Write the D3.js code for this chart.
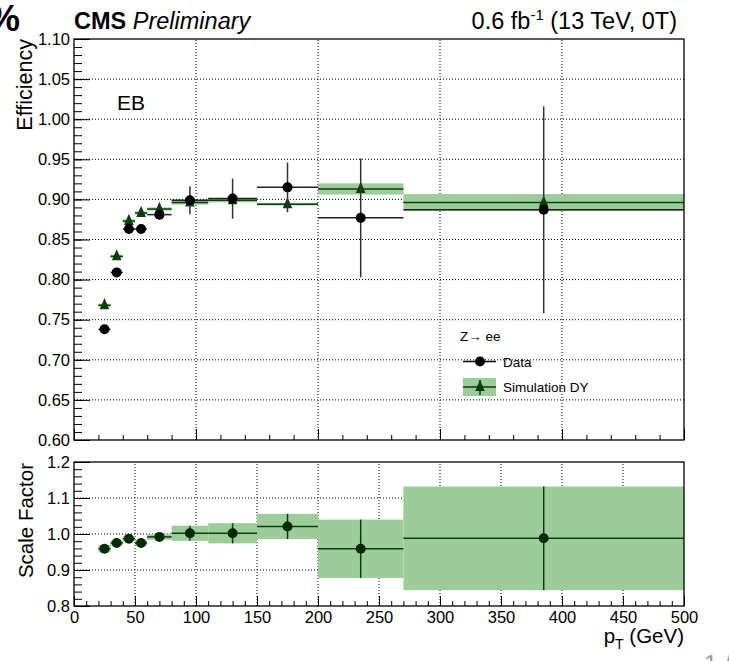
<!DOCTYPE html>
<html lang="en">
<head>
<meta charset="UTF-8" />
<title>EB efficiency vs pT</title>
<script src="https://d3js.org/d3.v7.min.js"></script>
<style>
  body { margin: 0; background: #fff; }
  svg { display: block; font-family: "Liberation Sans", Arial, Helvetica, sans-serif; }
  .tick line { stroke: #000; }
</style>
</head>
<body>
<script>
  // pT bins (GeV)
  var binLo = [20, 30, 40, 50, 60, 80, 110, 150, 200, 270];
  var binHi = [30, 40, 50, 60, 80, 110, 150, 200, 270, 500];
  var binCenter = [25, 35, 45, 55, 70, 95, 130, 175, 235, 385];

  // efficiency, data
  var effData = [0.738, 0.809, 0.863, 0.863, 0.881, 0.899, 0.901, 0.915, 0.877, 0.887];
  var effDataErr = [0.005, 0.004, 0.004, 0.004, 0.006, 0.0175, 0.025, 0.031, 0.074, 0.129];
  // efficiency, simulation DY
  var effMC = [0.768, 0.829, 0.873, 0.883, 0.888, 0.896, 0.899, 0.894, 0.913, 0.896];
  var effMCErr = [0.002, 0.002, 0.002, 0.002, 0.002, 0.0025, 0.0027, 0.0015, 0.007, 0.0106];
  // scale factor data / simulation
  var sf = [0.959, 0.975, 0.987, 0.975, 0.992, 1.002, 1.002, 1.021, 0.959, 0.988];
  var sfErr = [0.010, 0.007, 0.007, 0.007, 0.008, 0.021, 0.028, 0.035, 0.081, 0.144];

  var effTicks = [0.60, 0.65, 0.70, 0.75, 0.80, 0.85, 0.90, 0.95, 1.00, 1.05, 1.10];
  var sfTicks = [0.8, 0.9, 1.0, 1.1, 1.2];
  var ptTicks = [0, 50, 100, 150, 200, 250, 300, 350, 400, 450, 500];

  var w = 729, h = 661;
  var green = "#0c3d0c", band = "#9ccc99";

  var bins = binCenter.map(function (c, i) {
    return { lo: binLo[i], hi: binHi[i], c: c,
      d: effData[i], de: effDataErr[i], m: effMC[i], me: effMCErr[i],
      s: sf[i], se: sfErr[i] };
  });

  var x = d3.scaleLinear().domain([0, 500]).range([74, 684]);
  var yTop = d3.scaleLinear().domain([0.6, 1.1]).range([440, 39]);
  var yBot = d3.scaleLinear().domain([0.8, 1.2]).range([606, 462]);

  var svg = d3.select("body").append("svg").attr("width", w).attr("height", h);

  function grid(g, xs, ys, y) {
    g.selectAll(".vg").data(xs).enter().append("line")
      .attr("x1", function (d) { return x(d); }).attr("x2", function (d) { return x(d); })
      .attr("y1", y.range()[0]).attr("y2", y.range()[1]);
    g.selectAll(".hg").data(ys).enter().append("line")
      .attr("x1", x.range()[0]).attr("x2", x.range()[1])
      .attr("y1", function (d) { return y(d); }).attr("y2", function (d) { return y(d); });
    g.attr("stroke", "#000").attr("stroke-width", 1).attr("stroke-dasharray", "1,2");
  }
  grid(svg.append("g"), [100, 200, 300, 400], effTicks.slice(1, -1), yTop);
  grid(svg.append("g"), [50, 100, 150, 200, 250, 300, 350, 400, 450], [0.9, 1.0, 1.1], yBot);

  function tri(cx, cy, s) {
    return "M" + cx + "," + (cy - s * 0.9) + "L" + (cx + s * 0.6) + "," + (cy + s * 0.5) +
      "L" + (cx - s * 0.6) + "," + (cy + s * 0.5) + "Z";
  }

  // ---- top panel ----
  var gTop = svg.append("g");
  gTop.selectAll(".band").data(bins).enter().append("rect")
    .attr("x", function (d) { return x(d.lo); })
    .attr("width", function (d) { return x(d.hi) - x(d.lo); })
    .attr("y", function (d) { return yTop(d.m + d.me); })
    .attr("height", function (d) { return yTop(d.m - d.me) - yTop(d.m + d.me); })
    .attr("fill", band);
  gTop.selectAll(".mcl").data(bins).enter().append("line")
    .attr("x1", function (d) { return x(d.lo); }).attr("x2", function (d) { return x(d.hi); })
    .attr("y1", function (d) { return yTop(d.m); }).attr("y2", function (d) { return yTop(d.m); })
    .attr("stroke", green).attr("stroke-width", 1.5);
  gTop.selectAll(".mcm").data(bins).enter().append("path")
    .attr("d", function (d) { return tri(x(d.c), yTop(d.m), 8); })
    .attr("fill", green);

  gTop.selectAll(".dh").data(bins).enter().append("line")
    .attr("x1", function (d) { return x(d.lo); }).attr("x2", function (d) { return x(d.hi); })
    .attr("y1", function (d) { return yTop(d.d); }).attr("y2", function (d) { return yTop(d.d); })
    .attr("stroke", "#222").attr("stroke-width", 1.5);
  gTop.selectAll(".dv").data(bins).enter().append("line")
    .attr("x1", function (d) { return x(d.c); }).attr("x2", function (d) { return x(d.c); })
    .attr("y1", function (d) { return yTop(d.d - d.de); }).attr("y2", function (d) { return yTop(d.d + d.de); })
    .attr("stroke", "#333").attr("stroke-width", 1.5);
  gTop.selectAll(".dm").data(bins).enter().append("circle")
    .attr("cx", function (d) { return x(d.c); }).attr("cy", function (d) { return yTop(d.d); })
    .attr("r", 5).attr("fill", "#000");

  // ---- bottom panel ----
  var gBot = svg.append("g");
  gBot.selectAll(".band").data(bins).enter().append("rect")
    .attr("x", function (d) { return x(d.lo); })
    .attr("width", function (d) { return x(d.hi) - x(d.lo); })
    .attr("y", function (d) { return yBot(d.s + d.se); })
    .attr("height", function (d) { return yBot(d.s - d.se) - yBot(d.s + d.se); })
    .attr("fill", band);
  gBot.selectAll(".sh").data(bins).enter().append("line")
    .attr("x1", function (d) { return x(d.lo); }).attr("x2", function (d) { return x(d.hi); })
    .attr("y1", function (d) { return yBot(d.s); }).attr("y2", function (d) { return yBot(d.s); })
    .attr("stroke", green).attr("stroke-width", 1.5);
  gBot.selectAll(".sv").data(bins).enter().append("line")
    .attr("x1", function (d) { return x(d.c); }).attr("x2", function (d) { return x(d.c); })
    .attr("y1", function (d) { return yBot(d.s - d.se); }).attr("y2", function (d) { return yBot(d.s + d.se); })
    .attr("stroke", green).attr("stroke-width", 1.5);
  gBot.selectAll(".sm").data(bins).enter().append("circle")
    .attr("cx", function (d) { return x(d.c); }).attr("cy", function (d) { return yBot(d.s); })
    .attr("r", 5).attr("fill", "#032b03");

  // frames
  [yTop, yBot].forEach(function (y) {
    svg.append("rect").attr("x", 74).attr("y", y.range()[1])
      .attr("width", 610).attr("height", y.range()[0] - y.range()[1])
      .attr("fill", "none").attr("stroke", "#000").attr("stroke-width", 1.3);
  });

  // axes (ticks pointing inside, ROOT style)
  function clean(g) { g.select(".domain").remove(); g.selectAll("text").attr("fill", "#000"); }
  var d01 = d3.range(51).map(function (i) { return 0.6 + i * 0.01; });
  svg.append("g").attr("transform", "translate(74,0)")
    .call(d3.axisLeft(yTop).tickValues(d01).tickSizeInner(-8).tickFormat(""))
    .call(clean);
  svg.append("g").attr("transform", "translate(74,0)")
    .call(d3.axisLeft(yTop).tickValues(effTicks).tickSizeInner(-16).tickPadding(4).tickFormat(d3.format(".2f")))
    .call(clean).attr("font-size", 16.5).attr("font-family", null);

  var d02 = d3.range(21).map(function (i) { return 0.8 + i * 0.02; });
  svg.append("g").attr("transform", "translate(74,0)")
    .call(d3.axisLeft(yBot).tickValues(d02).tickSizeInner(-8).tickFormat(""))
    .call(clean);
  svg.append("g").attr("transform", "translate(74,0)")
    .call(d3.axisLeft(yBot).tickValues(sfTicks).tickSizeInner(-16).tickPadding(4).tickFormat(d3.format(".1f")))
    .call(clean).attr("font-size", 16.5).attr("font-family", null);

  svg.append("g").attr("transform", "translate(0,440)")
    .call(d3.axisBottom(x).tickValues(d3.range(0, 501, 20)).tickSizeInner(-5).tickFormat(""))
    .call(clean);
  svg.append("g").attr("transform", "translate(0,440)")
    .call(d3.axisBottom(x).tickValues([0, 100, 200, 300, 400, 500]).tickSizeInner(-11).tickFormat(""))
    .call(clean);

  svg.append("g").attr("transform", "translate(0,606)")
    .call(d3.axisBottom(x).tickValues(d3.range(0, 501, 10)).tickSizeInner(-5).tickFormat(""))
    .call(clean);
  svg.append("g").attr("transform", "translate(0,606)")
    .call(d3.axisBottom(x).tickValues(ptTicks).tickSizeInner(-10).tickPadding(5).tickFormat(d3.format("d")))
    .call(clean).attr("font-size", 16.5).attr("font-family", null);

  // titles
  svg.append("text").attr("transform", "translate(32,39) rotate(-90)")
    .attr("text-anchor", "end").attr("font-size", 21.5).text("Efficiency");
  svg.append("text").attr("transform", "translate(33,463) rotate(-90)")
    .attr("text-anchor", "end").attr("font-size", 20.5).text("Scale Factor");

  var xt = svg.append("text").attr("x", 684).attr("y", 643).attr("text-anchor", "end").attr("font-size", 20.5);
  xt.append("tspan").text("p");
  xt.append("tspan").attr("dy", 6).attr("font-size", 14).text("T");
  xt.append("tspan").attr("dy", -6).text(" (GeV)");

  var cms = svg.append("text").attr("x", 74).attr("y", 29).attr("font-size", 23.5);
  cms.append("tspan").attr("font-weight", "bold").text("CMS ");
  cms.append("tspan").attr("font-style", "italic").text("Preliminary");

  var lumi = svg.append("text").attr("x", 677).attr("y", 29).attr("text-anchor", "end").attr("font-size", 23.5);
  lumi.append("tspan").text("0.6 fb");
  lumi.append("tspan").attr("dy", -9).attr("font-size", 15).text("-1");
  lumi.append("tspan").attr("dy", 9).text(" (13 TeV, 0T)");

  svg.append("text").attr("x", 117).attr("y", 110).attr("font-size", 21).text("EB");

  // clipped pieces from the page around the plot
  svg.append("text").attr("x", -12).attr("y", 31).attr("font-size", 36).attr("font-weight", "bold").text("%");
  svg.append("text").attr("x", 704).attr("y", 672).attr("font-size", 24).attr("fill", "#999").text("1 /");

  // legend
  var lg = svg.append("g").attr("font-size", 13.5);
  lg.append("text").attr("x", 460).attr("y", 341).text("Z\u2192 ee");
  lg.append("line").attr("x1", 463).attr("x2", 496).attr("y1", 361.5).attr("y2", 361.5)
    .attr("stroke", "#000").attr("stroke-width", 1.5);
  lg.append("circle").attr("cx", 480).attr("cy", 361.5).attr("r", 5).attr("fill", "#000");
  lg.append("text").attr("x", 503).attr("y", 366.5).text("Data");
  lg.append("rect").attr("x", 463).attr("y", 378).attr("width", 33).attr("height", 18).attr("fill", band);
  lg.append("line").attr("x1", 463).attr("x2", 496).attr("y1", 387).attr("y2", 387)
    .attr("stroke", green).attr("stroke-width", 1.5);
  lg.append("line").attr("x1", 480).attr("x2", 480).attr("y1", 380).attr("y2", 395)
    .attr("stroke", green).attr("stroke-width", 1.5);
  lg.append("path").attr("d", tri(480, 387, 8)).attr("fill", green);
  lg.append("text").attr("x", 503).attr("y", 392).text("Simulation DY");
</script>
</body>
</html>
